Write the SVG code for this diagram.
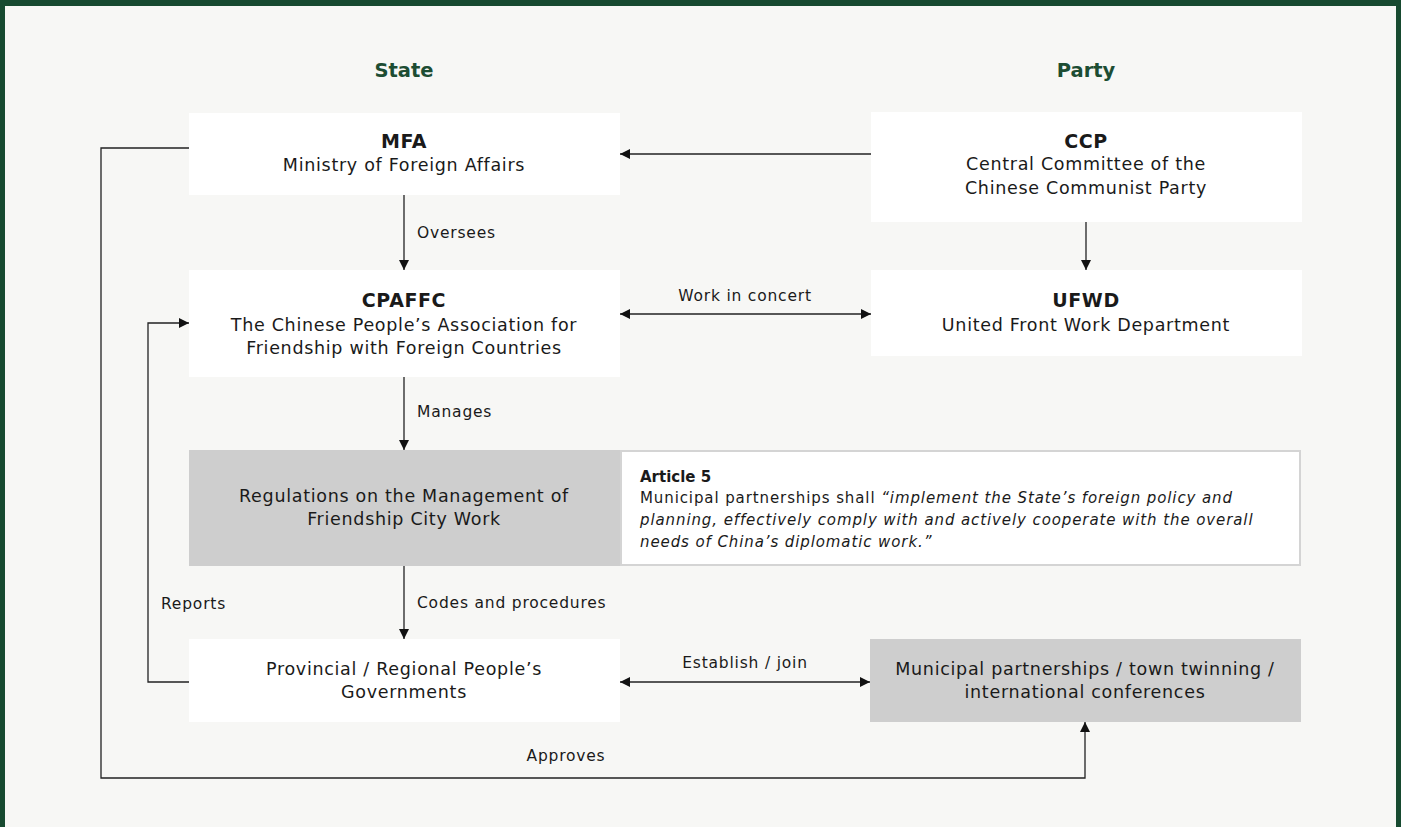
<svg xmlns="http://www.w3.org/2000/svg" width="1401" height="827" viewBox="0 0 1401 827">
  <style>
    text { font-family: "DejaVu Sans", "Open Sans", sans-serif; fill: #1a1a1a; }
    .head { font-size: 19.5px; font-weight: bold; fill: #1d4d33; text-anchor: middle; }
    .title { font-size: 19px; font-weight: bold; text-anchor: middle; letter-spacing: 0.6px; }
    .body { font-size: 17.5px; text-anchor: middle; letter-spacing: 0.7px; }
    .lbl { font-size: 15.5px; letter-spacing: 0.8px; }
    .quote { font-size: 15px; letter-spacing: 0.9px; }
    .box { fill: #ffffff; }
    .grey { fill: #cecece; }
    .wire { fill: none; stroke: #222222; stroke-width: 1.3; }
  </style>
  <defs>
    <marker id="arrow" viewBox="0 0 10 10" refX="10" refY="5" markerWidth="10" markerHeight="10" markerUnits="userSpaceOnUse" orient="auto-start-reverse">
      <path d="M0,0 L10,5 L0,10 z" fill="#111111"/>
    </marker>
  </defs>

  <!-- page frame -->
  <rect x="0" y="0" width="1401" height="827" fill="#174a30"/>
  <rect x="5" y="6" width="1391" height="821" fill="#f7f7f5"/>

  <!-- column headings -->
  <text class="head" x="404" y="77">State</text>
  <text class="head" x="1086" y="77">Party</text>

  <!-- connectors -->
  <g id="connectors">
    <path class="wire" d="M871,154 H620" marker-end="url(#arrow)"/>
    <path class="wire" d="M404,195 V270" marker-end="url(#arrow)"/>
    <text class="lbl" x="417" y="238">Oversees</text>
    <path class="wire" d="M1086,222 V270" marker-end="url(#arrow)"/>
    <path class="wire" d="M620,314 H871" marker-start="url(#arrow)" marker-end="url(#arrow)"/>
    <text class="lbl" x="745" y="301" text-anchor="middle">Work in concert</text>
    <path class="wire" d="M404,377 V450" marker-end="url(#arrow)"/>
    <text class="lbl" x="417" y="417">Manages</text>
    <path class="wire" d="M404,566 V639" marker-end="url(#arrow)"/>
    <text class="lbl" x="417" y="608">Codes and procedures</text>
    <path class="wire" d="M620,682 H870" marker-start="url(#arrow)" marker-end="url(#arrow)"/>
    <text class="lbl" x="745" y="668" text-anchor="middle">Establish / join</text>
    <path class="wire" d="M189,682 H148 V323 H189" marker-end="url(#arrow)"/>
    <text class="lbl" x="161" y="609">Reports</text>
    <path class="wire" d="M189,148 H101 V778 H1085 V722" marker-end="url(#arrow)"/>
    <text class="lbl" x="566" y="761" text-anchor="middle">Approves</text>
  </g>

  <g id="mfa">
    <rect class="box" x="189" y="113" width="431" height="82"/>
    <text class="title" x="404" y="148">MFA</text>
    <text class="body" x="404" y="171">Ministry of Foreign Affairs</text>
  </g>

  <g id="ccp">
    <rect class="box" x="871" y="112" width="431" height="110"/>
    <text class="title" x="1086" y="148">CCP</text>
    <text class="body" x="1086" y="170">Central Committee of the</text>
    <text class="body" x="1086" y="194">Chinese Communist Party</text>
  </g>

  <g id="cpaffc">
    <rect class="box" x="189" y="270" width="431" height="107"/>
    <text class="title" x="404" y="307">CPAFFC</text>
    <text class="body" x="404" y="331">The Chinese People’s Association for</text>
    <text class="body" x="404" y="354">Friendship with Foreign Countries</text>
  </g>

  <g id="ufwd">
    <rect class="box" x="871" y="270" width="431" height="86"/>
    <text class="title" x="1086" y="307">UFWD</text>
    <text class="body" x="1086" y="331">United Front Work Department</text>
  </g>

  <g id="regulations">
    <rect class="grey" x="189" y="450" width="432" height="116"/>
    <text class="body" x="404" y="502">Regulations on the Management of</text>
    <text class="body" x="404" y="525">Friendship City Work</text>
  </g>

  <g id="article5">
    <rect x="621" y="451" width="679" height="114" fill="#ffffff" stroke="#d4d4d4" stroke-width="2"/>
    <text x="640" y="482" font-size="15" font-weight="bold">Article 5</text>
    <text class="quote" x="640" y="503">Municipal partnerships shall <tspan font-style="italic">“implement the State’s foreign policy and</tspan></text>
    <text class="quote" x="640" y="525" font-style="italic">planning, effectively comply with and actively cooperate with the overall</text>
    <text class="quote" x="640" y="547" font-style="italic">needs of China’s diplomatic work.”</text>
  </g>

  <g id="provincial">
    <rect class="box" x="189" y="639" width="431" height="83"/>
    <text class="body" x="404" y="675">Provincial / Regional People’s</text>
    <text class="body" x="404" y="698">Governments</text>
  </g>

  <g id="municipal">
    <rect class="grey" x="870" y="639" width="431" height="83"/>
    <text class="body" x="1085" y="675">Municipal partnerships / town twinning /</text>
    <text class="body" x="1085" y="698">international conferences</text>
  </g>
</svg>
